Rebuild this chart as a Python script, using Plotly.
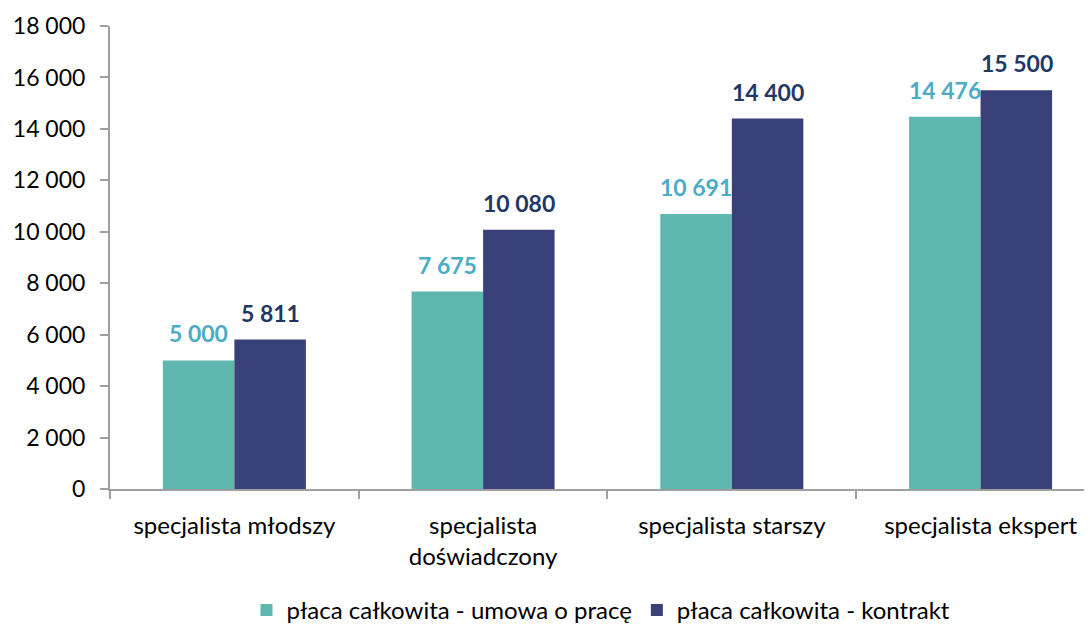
import plotly.graph_objects as go

categories = ["specjalista młodszy", "specjalista<br>doświadczony", "specjalista starszy", "specjalista ekspert"]
umowa = [5000, 7675, 10691, 14476]
kontrakt = [5811, 10080, 14400, 15500]
series_names = ["płaca całkowita - umowa o pracę", "płaca całkowita - kontrakt"]
y_ticks = [0, 2000, 4000, 6000, 8000, 10000, 12000, 14000, 16000, 18000]

def fmt(v):
    return f"{v:,}".replace(",", " ")

FONT = "Lato, Carlito, Calibri, sans-serif"
TEAL, NAVY = "#5FB8B0", "#3A4078"
TEAL_TXT, NAVY_TXT = "#4BACC6", "#1F3864"

fig = go.Figure()
fig.add_trace(go.Bar(x=categories, y=umowa, name=series_names[0], marker=dict(color=TEAL, line=dict(width=0))))
fig.add_trace(go.Bar(x=categories, y=kontrakt, name=series_names[1], marker=dict(color=NAVY, line=dict(width=0))))

annotations = []
for series, color, xs in ((umowa, TEAL_TXT, -36), (kontrakt, NAVY_TXT, 36)):
    for cat, v in zip(categories, series):
        annotations.append(dict(
            x=cat, y=v, xref="x", yref="y", text=fmt(v), showarrow=False,
            xshift=xs, yshift=27, yanchor="middle", xanchor="center",
            font=dict(family=FONT, size=23, color=color, weight="bold"),
        ))

fig.update_layout(
    width=1084, height=617,
    margin=dict(l=102, r=0, t=18, b=136, autoexpand=False),
    paper_bgcolor="white", plot_bgcolor="white",
    barmode="group", bargap=0.425, bargroupgap=0,
    font=dict(family=FONT, size=22, color="#000000"),
    showlegend=True,
    legend=dict(orientation="h", x=0.5, xanchor="center", y=-0.262, yanchor="middle",
                font=dict(family=FONT, size=24), traceorder="normal"),
    annotations=annotations,
)
fig.update_xaxes(
    range=[-0.5, 3.448], showline=True, linecolor="#A0A0A0", linewidth=2,
    ticks="outside", tickson="boundaries", ticklen=8, tickcolor="#A0A0A0", tickwidth=2,
    tickfont=dict(family=FONT, size=24), showgrid=False, fixedrange=True,
    automargin=False, ticklabelstandoff=14,
)
fig.update_yaxes(
    range=[0, 18000], tickvals=y_ticks, ticktext=[fmt(v) for v in y_ticks],
    showline=True, linecolor="#A0A0A0", linewidth=2,
    ticks="outside", ticklen=8, tickcolor="#A0A0A0", tickwidth=2,
    tickfont=dict(family=FONT, size=23), showgrid=False, zeroline=False,
    ticklabelstandoff=10, automargin=False,
)
fig.write_html("out.html")
